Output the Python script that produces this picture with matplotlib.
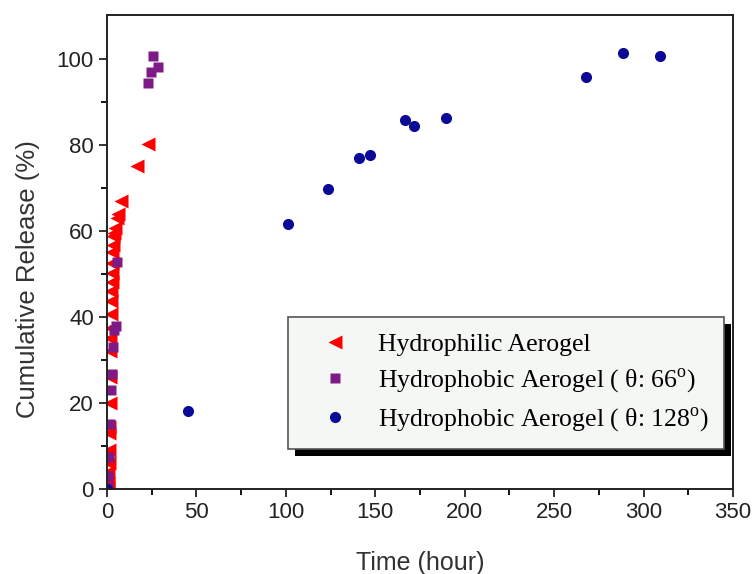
import numpy as np
import matplotlib.pyplot as plt
from matplotlib.patches import Rectangle

plt.rcParams['font.family'] = 'Liberation Sans'
plt.rcParams['mathtext.fontset'] = 'custom'
plt.rcParams['mathtext.rm'] = 'Liberation Serif'

# hydrophilic aerogel
t_phil = [0.3, 0.5, 0.8, 1.0, 1.1, 1.3, 1.3, 1.5, 1.7, 1.7, 1.9, 2.0, 2.2, 2.4, 2.4,
          2.6, 2.8, 2.8, 3.0, 3.3, 3.5, 4.0, 4.5, 5.5, 6.3, 7.8, 16.7, 22.7]
r_phil = [0.5, 1.5, 4, 6, 9, 13, 14.5, 20, 26, 32, 35, 37.4, 40.6, 43.6, 46,
          48, 50.2, 52.5, 55, 56.8, 58.7, 59.5, 60.6, 63, 64, 67, 75, 80.2]
# hydrophobic, theta 66
t_66 = [0.5, 0.8, 1.3, 1.7, 2.4, 2.8, 3.5, 3.9, 4.8, 5.4, 22.7, 24.7, 25.8, 28.8]
r_66 = [0.5, 3, 7.5, 15.1, 22.9, 26.7, 33, 37, 37.9, 52.7, 94.4, 96.8, 100.7, 98.1]
# hydrophobic, theta 128
t_128 = [0, 45.1, 101.4, 123.7, 141, 147, 166.7, 171.7, 189.5, 267.6, 288.7, 309.4]
r_128 = [0, 18.1, 61.6, 69.8, 77, 77.7, 85.8, 84.4, 86.3, 95.8, 101.4, 100.5]

labels = ['Hydrophilic Aerogel',
          'Hydrophobic Aerogel ( θ: 66$^{\\rm o}$)',
          'Hydrophobic Aerogel ( θ: 128$^{\\rm o}$)']

fig = plt.figure(figsize=(7.56, 5.74), dpi=100)
ax = fig.add_axes([0.1415, 0.148, 0.828, 0.825])

ax.plot(t_phil, r_phil, '<', color='#ff0000', ms=9.5, mec='none', label=labels[0])
ax.plot(t_66, r_66, 's', color='#7e1a86', ms=7, mec='none', label=labels[1])
ax.plot(t_128, r_128, 'o', color='#0a0a96', ms=8, mec='none', label=labels[2])

ax.set_xlim(0, 350)
ax.set_ylim(0, 110)
ax.set_xticks(np.arange(0, 351, 50))
ax.set_xticks(np.arange(25, 350, 50), minor=True)
ax.set_yticks(np.arange(0, 101, 20))
ax.set_yticks(np.arange(10, 110, 20), minor=True)
ax.tick_params(which='major', direction='out', length=6, width=1.3, labelsize=16, colors='#222222')
ax.tick_params(which='minor', direction='out', length=4, width=1.3)
for s in ax.spines.values():
    s.set_linewidth(1.4)
    s.set_color('#222222')

ax.set_xlabel('Time (hour)', fontsize=18, color='#333333')
ax.set_ylabel('Cumulative Release (%)', fontsize=18.5, color='#333333')
ax.xaxis.set_label_coords(0.5, -0.13)
ax.yaxis.set_label_coords(-0.107, 0.443)

leg = ax.legend(loc='upper left', bbox_to_anchor=(0.289, 0.363), borderaxespad=0,
                prop={'family': 'Liberation Serif', 'size': 18.5}, fancybox=False,
                framealpha=1, facecolor='#f5f7f4', edgecolor='#555555',
                handletextpad=0.4, labelspacing=0.4, borderpad=0.6, handlelength=2.5)
leg.get_frame().set_linewidth(1.2)
leg.set_zorder(5)

fig.canvas.draw()
bb = leg.get_window_extent()
shadow = Rectangle((bb.x0 + 7, bb.y0 - 7), bb.width, bb.height, transform=None,
                   facecolor='black', edgecolor='none', zorder=4.5)
ax.add_artist(shadow)

fig.savefig('out.png', dpi=100)
